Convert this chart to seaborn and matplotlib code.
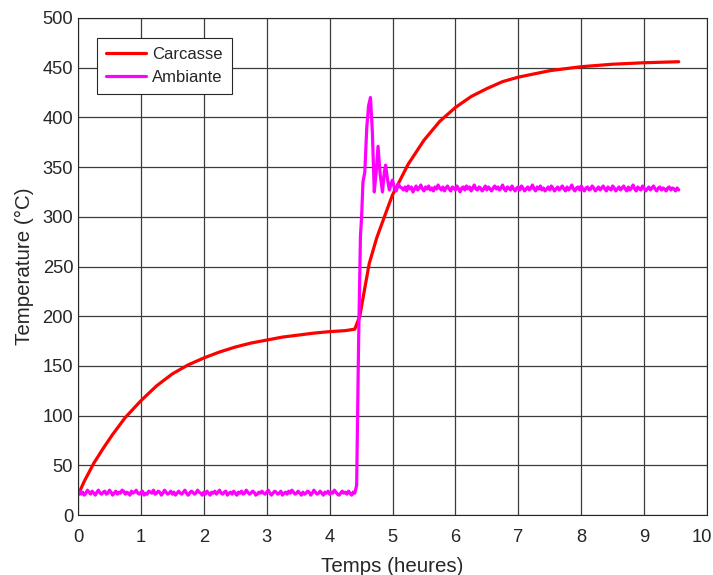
import numpy as np
import pandas as pd
import matplotlib
matplotlib.use('Agg')
import matplotlib.pyplot as plt
import matplotlib.transforms as mtransforms
import seaborn as sns

# Carcasse (red)
carc_t = [0, 0.1, 0.25, 0.4, 0.55, 0.75, 1.0, 1.25, 1.5, 1.75, 2.0, 2.25, 2.5, 2.75,
          3.0, 3.25, 3.5, 3.75, 4.0, 4.25, 4.40, 4.48, 4.55, 4.63, 4.75, 4.9, 5.0,
          5.25, 5.5, 5.75, 6.0, 6.25, 6.5, 6.75, 7.0, 7.5, 8.0, 8.5, 9.0, 9.55]
carc_y = [20, 34, 52, 67, 81, 98, 115, 130, 142, 151, 158, 164, 169, 173,
          176, 179, 181, 183, 184.5, 185.5, 187, 200, 225, 253, 279, 305, 322,
          353, 377, 396, 410, 421, 429, 436, 440.5, 447, 451, 453.5, 455, 456]

# Ambiante (magenta): noisy low plateau, transient, noisy high plateau
amb_low = [22, 24, 21, 23, 20, 22, 25, 23, 21, 24,
           22, 20, 23, 25, 22, 21, 23, 24, 21, 22,
           25, 23, 20, 22, 24, 21, 23, 22, 25, 24,
           21, 23, 22, 20, 24, 22, 23, 25, 22, 21,
           23, 24, 20, 22, 21, 24, 23, 22, 25, 21,
           22, 24, 23, 20, 22, 25, 23, 21, 22, 24,
           21, 23, 20, 22, 24, 22, 21, 23, 25, 22,
           20, 22, 24, 23, 21, 22, 25, 23, 22, 20,
           23, 21, 24, 22, 20, 23, 22, 24, 21, 23,
           25, 22, 21, 23, 24, 20, 22, 23, 21, 24,
           22, 20, 23, 22, 24, 21, 22, 25, 23, 21,
           22, 24, 23, 20, 21, 23, 22, 24, 22, 21,
           23, 25, 22, 20, 22, 24, 23, 21, 22, 24,
           20, 22, 23, 21, 24, 22, 25, 23, 21, 22,
           24, 22, 20, 23, 21, 22, 24, 23, 20, 22,
           25, 23, 21, 22, 24, 22, 20, 23, 22, 24,
           21, 23, 22, 25, 23, 21, 20, 22, 24, 22,
           23, 21, 24, 22, 20, 23, 22]
trans_t = [4.43, 4.46, 4.49, 4.51, 4.53, 4.56, 4.59, 4.62, 4.65, 4.68, 4.71, 4.74,
           4.77, 4.80, 4.84, 4.87, 4.89, 4.92, 4.95, 4.98, 5.00, 5.03, 5.06, 5.09, 5.12]
trans_y = [30, 170, 280, 302, 335, 345, 389, 412, 420, 385, 325, 345,
           371, 345, 325, 345, 352, 338, 327, 334, 337, 329, 326, 333, 330]
amb_high = [329, 327, 330, 326, 331, 328, 330, 325, 328, 331,
            327, 329, 332, 328, 326, 330, 328, 331, 327, 329,
            326, 330, 328, 332, 329, 327, 330, 326, 329, 331,
            328, 326, 330, 329, 327, 331, 328, 325, 329, 330,
            327, 331, 328, 330, 326, 329, 332, 328, 327, 330,
            329, 326, 328, 331, 327, 330, 328, 326, 329, 331,
            328, 330, 327, 329, 332, 328, 326, 330, 329, 327,
            331, 328, 326, 329, 330, 327, 331, 329, 326, 328,
            330, 327, 329, 332, 328, 326, 330, 328, 331, 327,
            329, 326, 328, 330, 327, 331, 329, 326, 328, 330,
            327, 329, 331, 328, 326, 330, 327, 329, 332, 328,
            326, 329, 330, 327, 331, 328, 326, 329, 330, 327,
            328, 331, 329, 326, 328, 330, 327, 329, 331, 328,
            326, 330, 328, 327, 331, 329, 326, 328, 330, 327,
            329, 331, 328, 326, 330, 327, 329, 332, 328, 326,
            330, 328, 327, 331, 329, 326, 328, 330, 327, 329,
            331, 328, 326, 329, 330, 327, 329, 328, 326, 329,
            330, 327, 329, 328, 326, 329, 327]

step = 0.025
t_low = np.arange(len(amb_low)) * step
t_high = 5.15 + np.arange(len(amb_high)) * step
amb_t = np.concatenate([t_low, trans_t, t_high])
amb_y = np.concatenate([amb_low, trans_y, amb_high])

carc = pd.DataFrame({'t': carc_t, 'T': carc_y})
amb = pd.DataFrame({'t': amb_t, 'T': amb_y})

sns.set_style('white')
plt.rcParams['font.family'] = ['Liberation Sans', 'DejaVu Sans']

fig = plt.figure(figsize=(7.13, 5.75), dpi=100)
ax = fig.add_axes([0.1094, 0.1043, 0.8822, 0.8644])

sns.lineplot(data=carc, x='t', y='T', color='#ff0000', linewidth=2.3,
             label='Carcasse', ax=ax, sort=False)
sns.lineplot(data=amb, x='t', y='T', color='#ff00ff', linewidth=2.3,
             label='Ambiante', ax=ax, sort=False)

ax.set_xlim(0, 10)
ax.set_ylim(0, 500)
ax.set_xticks(range(0, 11))
ax.set_yticks(range(0, 501, 50))
ax.grid(True, color='#3c3c3c', linewidth=0.9)
ax.set_axisbelow(True)
ax.tick_params(direction='in', labelsize=13.2, colors='#262626', length=4)
ax.tick_params(axis='x', pad=10)
for s in ax.spines.values():
    s.set_color('#262626')
    s.set_linewidth(0.8)

# keep the "10" inside the figure like the reference
last = ax.get_xticklabels()[-1]
last.set_transform(last.get_transform() +
                   mtransforms.ScaledTranslation(-4 / 72, 0, fig.dpi_scale_trans))

ax.set_xlabel('Temps (heures)', fontsize=14.8, color='#262626', labelpad=8)
ax.set_ylabel('Temperature (°C)', fontsize=14.8, color='#262626', labelpad=6)

leg = ax.legend(loc='upper left', bbox_to_anchor=(0.03, 0.96), borderaxespad=0,
                fontsize=12, fancybox=False, framealpha=1, handlelength=2.4,
                edgecolor='#262626', borderpad=0.55, labelspacing=0.45,
                handletextpad=0.35)
leg.get_frame().set_linewidth(0.8)

fig.savefig('out.png', dpi=100)
